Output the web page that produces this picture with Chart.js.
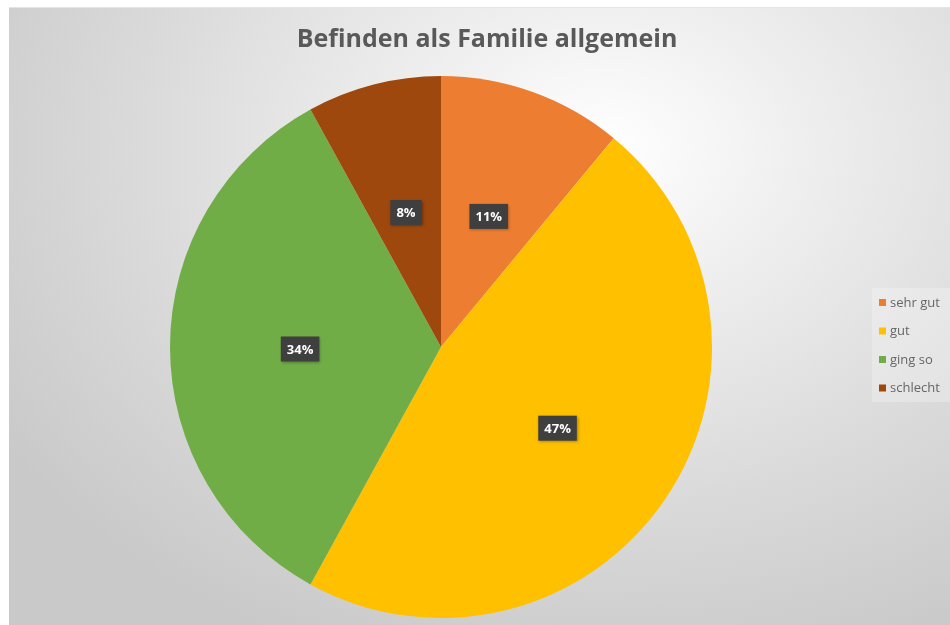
<!DOCTYPE html>
<html>
<head>
<meta charset="utf-8">
<script src="https://cdn.jsdelivr.net/npm/chart.js@4/dist/chart.umd.min.js"></script>
<style>
    html, body { margin: 0; padding: 0; background: #ffffff; }
    #wrap { position: relative; width: 950px; height: 625px; overflow: hidden; }
    #bg {
        position: absolute; left: 9px; top: 7px; width: 960px; height: 640px;
        background: radial-gradient(ellipse 75% 85% at 62% 22%, #ffffff 0%, #f0f0f0 25%, #dadada 65%, #c9c9c9 100%);
        border-top: 1px solid #e4e4e4;
    }
    #chart { position: absolute; left: 0; top: 0; }
</style>
</head>
<body>
<div id="wrap">
    <div id="bg"></div>
    <canvas id="chart" width="950" height="625"></canvas>
</div>
<script>
var categories = ['sehr gut', 'gut', 'ging so', 'schlecht'];
var shares = [11, 47, 34, 8];
var sliceColors = ['#ED7D31', '#FFC000', '#70AD47', '#9E480E'];
var chartTitle = 'Befinden als Familie allgemein';

// percentage boxes inside each slice
var sliceLabels = {
    id: 'sliceLabels',
    afterDatasetsDraw: function (chart) {
        var ctx = chart.ctx;
        var meta = chart.getDatasetMeta(0);
        ctx.save();
        ctx.font = 'bold 13px "Open Sans", sans-serif';
        ctx.textAlign = 'center';
        ctx.textBaseline = 'middle';
        meta.data.forEach(function (arc, i) {
            var p = arc.getProps(['x', 'y', 'startAngle', 'endAngle', 'outerRadius']);
            var mid = (p.startAngle + p.endAngle) / 2;
            var r = p.outerRadius * 0.52;
            var x = p.x + Math.cos(mid) * r;
            var y = p.y + Math.sin(mid) * r + 2;
            var text = shares[i] + '%';
            var w = ctx.measureText(text).width + 12;
            var h = 25;
            ctx.shadowColor = 'rgba(0,0,0,0.35)';
            ctx.shadowBlur = 3;
            ctx.shadowOffsetX = 1;
            ctx.shadowOffsetY = 1;
            ctx.fillStyle = '#3f3f3f';
            ctx.fillRect(x - w / 2, y - h / 2, w, h);
            ctx.shadowColor = 'transparent';
            ctx.fillStyle = '#ffffff';
            ctx.fillText(text, x, y + 1);
        });
        ctx.restore();
    }
};

// title and legend drawn where the original has them
var titleAndLegend = {
    id: 'titleAndLegend',
    afterDraw: function (chart) {
        var ctx = chart.ctx;
        ctx.save();
        ctx.font = 'bold 25px "Open Sans", sans-serif';
        ctx.fillStyle = '#595959';
        ctx.textAlign = 'center';
        ctx.textBaseline = 'middle';
        ctx.fillText(chartTitle, 487, 40);

        ctx.fillStyle = 'rgba(255,255,255,0.25)';
        ctx.fillRect(872, 288, 90, 114);

        ctx.font = '13px "Open Sans", sans-serif';
        ctx.textAlign = 'left';
        chart.data.labels.forEach(function (label, i) {
            var y = 303 + i * 28.5;
            ctx.fillStyle = chart.data.datasets[0].backgroundColor[i];
            ctx.fillRect(879, y - 4, 7, 7);
            ctx.fillStyle = '#666666';
            ctx.fillText(label, 890, y);
        });
        ctx.restore();
    }
};

new Chart(document.getElementById('chart').getContext('2d'), {
    type: 'pie',
    data: {
        labels: categories,
        datasets: [{
            data: shares,
            backgroundColor: sliceColors,
            borderWidth: 0
        }]
    },
    options: {
        responsive: false,
        animation: false,
        layout: {
            padding: { top: 76, bottom: 7, left: 170, right: 238 }
        },
        plugins: {
            legend: { display: false },
            tooltip: { enabled: false }
        }
    },
    plugins: [sliceLabels, titleAndLegend]
});
</script>
</body>
</html>
